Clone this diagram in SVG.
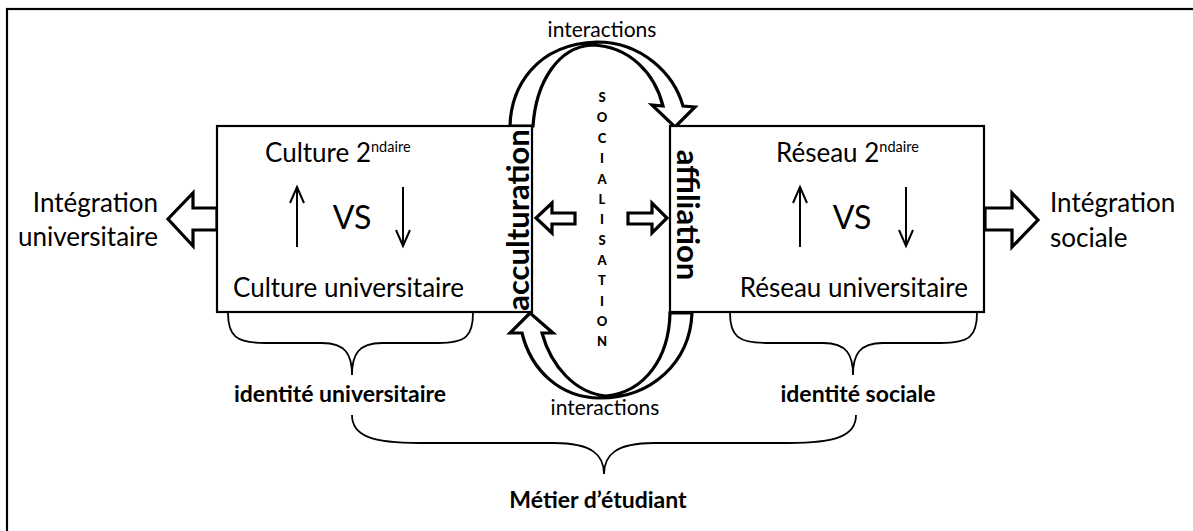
<svg xmlns="http://www.w3.org/2000/svg" width="1193" height="531" viewBox="0 0 1193 531">
<style>
text{font-family:Lato,"Liberation Sans",sans-serif;fill:#000}
.t28{font-size:26px}
.t22{font-size:21px}
.vs{font-size:32px}
.sup{font-size:14.5px}
.b{font-weight:bold;font-size:23px}
.vb{font-weight:bold;font-size:31px}
.soc{font-weight:900;font-size:13px}
.box{fill:#fff;stroke:#000;stroke-width:2.2}
.hol{fill:#fff;stroke:#000;stroke-width:3.2;stroke-linejoin:miter}
.thin{fill:none;stroke:#000;stroke-width:2}
.brace{fill:none;stroke:#000;stroke-width:1.8}
</style>
<rect x="7" y="9" width="1300" height="600" fill="#fff" stroke="#000" stroke-width="2.2"/>

<g id="connectors">
  <path class="hol" d="M217,208 L193,208 L193,193 L168,219 L193,246 L193,230 L217,230 Z"/>
  <path class="hol" d="M985,208 L1012,208 L1012,193 L1038,220 L1012,247 L1012,230 L985,230 Z"/>
  <path class="hol" d="M575,213 L552,213 L552,203 L536,218 L552,233 L552,224 L575,224 Z" stroke-width="2.8"/>
  <path class="hol" d="M628,213 L652,213 L652,203 L667,218 L652,233 L652,224 L628,224 Z" stroke-width="2.8"/>
  <path class="hol" d="M510,126 C511,88 535,44 597,42 C642,42 674,74 683,106 L695,107 L675,127 L652,105 L663,106 C655,74 630,46 592,45 C558,47 536,82 533,126 Z"/>
  <path class="hol" d="M522,333 L510,333 L530,313 L553,333 L542,333 C551,366 575,393 606,396 C645,392 669,358 670,313 L692,313 C690,362 652,398 600,398 C560,398 531,370 522,333 Z"/>
  <path class="brace" d="M228,313 C228,336 236,343 265,343 L322,343 C346,343 352,355 352,375 C352,355 358,343 382,343 L438,343 C466,343 473,336 473,313"/>
  <path class="brace" d="M730,313 C730,336 738,343 767,343 L823,343 C847,343 853,355 853,375 C853,355 859,343 883,343 L940,343 C970,343 977,336 977,313"/>
  <path class="brace" d="M352,415 C352,436 372,443 420,443 L554,443 C592,443 604,455 604,474 C604,455 616,443 654,443 L788,443 C836,443 856,436 856,415"/>
</g>

<g id="box-culture">
  <rect class="box" x="217" y="126" width="315" height="186"/>
  <text class="t28" x="265" y="162">Culture 2<tspan class="sup" dy="-10">ndaire</tspan></text>
  <line class="thin" x1="297" y1="247" x2="297" y2="188"/>
  <path class="thin" d="M290,203 L297,187 L304,203"/>
  <text class="vs" x="352" y="229" text-anchor="middle">VS</text>
  <line class="thin" x1="403" y1="187" x2="403" y2="246"/>
  <path class="thin" d="M396,230 L403,246 L410,230"/>
  <text class="t28" x="233" y="297">Culture universitaire</text>
  <text class="vb" transform="translate(529,220) rotate(-90)" text-anchor="middle">acculturation</text>
</g>

<g id="box-reseau">
  <rect class="box" x="670" y="126" width="314" height="186"/>
  <text class="t28" x="776" y="162">Réseau 2<tspan class="sup" dy="-10">ndaire</tspan></text>
  <line class="thin" x1="800" y1="247" x2="800" y2="188"/>
  <path class="thin" d="M793,203 L800,187 L807,203"/>
  <text class="vs" x="852" y="229" text-anchor="middle">VS</text>
  <line class="thin" x1="906" y1="187" x2="906" y2="246"/>
  <path class="thin" d="M899,230 L906,246 L913,230"/>
  <text class="t28" x="968" y="297" text-anchor="end">Réseau universitaire</text>
  <text class="vb" transform="translate(677,215) rotate(90)" text-anchor="middle">affiliation</text>
</g>

<g id="socialisation">
  <text class="soc" text-anchor="middle" x="602">
    <tspan x="602" y="102">S</tspan><tspan x="602" y="122">O</tspan><tspan x="602" y="143">C</tspan><tspan x="602" y="163">I</tspan><tspan x="602" y="184">A</tspan><tspan x="602" y="204">L</tspan><tspan x="602" y="224">I</tspan><tspan x="602" y="245">S</tspan><tspan x="602" y="265">A</tspan><tspan x="602" y="285">T</tspan><tspan x="602" y="306">I</tspan><tspan x="602" y="326">O</tspan><tspan x="602" y="346">N</tspan>
  </text>
</g>

<g id="labels">
  <text class="t22" x="602" y="37" text-anchor="middle">interactions</text>
  <text class="t22" x="605" y="415" text-anchor="middle">interactions</text>
  <text class="t28" x="158" y="212" text-anchor="end">Intégration</text>
  <text class="t28" x="158" y="246" text-anchor="end">universitaire</text>
  <text class="t28" x="1050" y="212">Intégration</text>
  <text class="t28" x="1050" y="247">sociale</text>
  <text class="b" x="340" y="402" text-anchor="middle">identité universitaire</text>
  <text class="b" x="858" y="402" text-anchor="middle">identité sociale</text>
  <text class="b" x="598" y="508" text-anchor="middle">Métier d’étudiant</text>
</g>
</svg>
